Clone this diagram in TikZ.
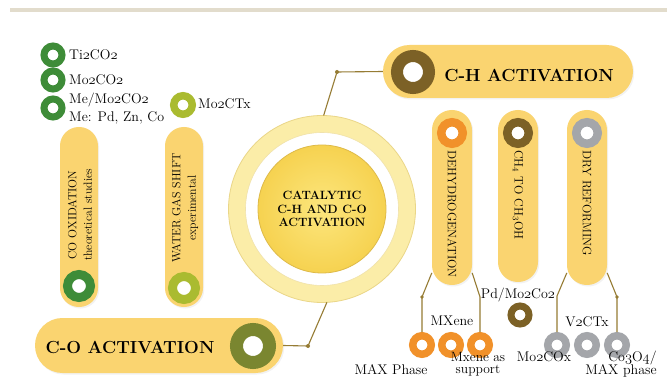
\documentclass[tikz,border=0pt]{standalone}
\usepackage{fontspec}
\usetikzlibrary{shadows}
\definecolor{baryel}{RGB}{250,212,112}
\definecolor{dgreen}{RGB}{62,140,56}
\definecolor{ygreen}{RGB}{170,187,48}
\definecolor{olivec}{RGB}{122,134,48}
\definecolor{brownc}{RGB}{124,97,38}
\definecolor{orangec}{RGB}{241,145,42}
\definecolor{greyc}{RGB}{164,166,170}
\definecolor{linec}{RGB}{150,124,52}
\definecolor{palering}{RGB}{251,237,168}
\definecolor{paleedge}{RGB}{234,214,136}
\definecolor{coreyel}{RGB}{246,210,80}
\definecolor{corein}{RGB}{252,230,125}
\definecolor{coreedge}{RGB}{222,186,72}
\definecolor{topbar}{RGB}{226,220,204}
\newcommand\ofig[1]{\legacyoldstylenums{#1}}
\begin{document}
\begin{tikzpicture}[x=1pt,y=-1pt,
  ring/.style n args={3}{circle, inner sep=0pt, fill=white, draw=#1,
     minimum size={(#2+#3)*1pt}, line width={(#2-#3)*1pt}},
  barshape/.style={rectangle, fill=baryel, inner sep=0pt,
     drop shadow={opacity=0.10,shadow xshift=1.2pt,shadow yshift=-1.5pt}},
  vbar/.style={barshape, minimum width=40pt, rounded corners=19.9pt},
  lbar/.style={barshape, minimum width=38pt, rounded corners=18.9pt},
  conn/.style={draw=linec, line width=1.1pt},
  jdot/.style={fill=linec},
  lbl/.style={inner sep=0pt, font=\fontsize{14}{18}\selectfont},
  vtxt/.style={inner sep=0pt, font=\fontsize{11.8}{15.5}\selectfont},
  rtxt/.style={inner sep=0pt, font=\fontsize{12.2}{14}\selectfont},
  head/.style={inner sep=0pt, font=\bfseries\fontsize{17.5}{20}\selectfont},
]
\useasboundingbox (0,0) rectangle (667,382);
\fill[white] (0,0) rectangle (667,382);
\fill[topbar] (10,8) rectangle (667,12);

% bars
\node[lbar, minimum height=180pt] (cobarv) at (79,217) {};
\node[lbar, minimum height=180pt] (wgsbar) at (184,217) {};
\node[barshape, minimum width=248pt, minimum height=55pt, rounded corners=27.4pt] (cobar) at (159,345.5) {};
\node[barshape, minimum width=250pt, minimum height=53pt, rounded corners=26.4pt] (chbar) at (508,71.5) {};
\node[vbar, minimum height=175pt] (dehy) at (452,197.5) {};
\node[vbar, minimum height=172pt] (chfour) at (518,196) {};
\node[vbar, minimum height=175pt] (dry) at (587,197.5) {};

% hub
\node[circle, minimum size=170pt, draw=palering, line width=17pt, fill=white] (hub) at (322,209) {};
\draw[paleedge, line width=0.8pt] (hub.center) circle[radius=93.5pt];
\draw[paleedge!70!white, line width=0.6pt] (hub.center) circle[radius=76.5pt];
\node[circle, minimum size=128pt, inner sep=0pt, inner color=corein, outer color=coreyel,
      draw=coreedge, line width=0.8pt, align=center,
      font=\bfseries\fontsize{12}{13.5}\selectfont] (core) at (hub.center)
      {CATALYTIC\\C-H AND C-O\\ACTIVATION};

% junctions
\coordinate (coj) at (308,346);
\coordinate (chj) at (337,72);
\coordinate (dj1) at (422,297);
\coordinate (dj2) at (480,297);
\coordinate (rj1) at (557,296);
\coordinate (rj2) at (617,297);

% rings
\node[ring={dgreen}{12.5}{5.5}] (rti) at (53,55) {};
\node[ring={dgreen}{12.5}{5.5}] (rmoc) at (53,80) {};
\node[ring={dgreen}{12.5}{5.5}] (rme) at (53,108) {};
\node[ring={ygreen}{13}{5.5}] (rmct) at (183,105) {};
\node[ring={dgreen}{16}{7}] (rco) at (79,286) {};
\node[ring={ygreen}{16}{7}] (rwgs) at (184,288) {};
\node[ring={olivec}{23}{10}] (rcoact) at (253,346) {};
\node[ring={brownc}{22}{10}] (rchact) at (413,72) {};
\node[ring={orangec}{15}{6.5}] (rdehy) at (452,133) {};
\node[ring={brownc}{15}{6.5}] (rchfour) at (518,133) {};
\node[ring={greyc}{15}{6.5}] (rdry) at (587,133) {};
\node[ring={orangec}{13}{5.5}] (oa) at (422,345) {};
\node[ring={orangec}{13}{5.5}] (ob) at (451,345) {};
\node[ring={orangec}{13}{5.5}] (oc) at (480,345) {};
\node[ring={brownc}{12.5}{5.5}] (rpd) at (520,315) {};
\node[ring={greyc}{13}{5.5}] (ga) at (557,345) {};
\node[ring={greyc}{13}{5.5}] (gb) at (587,345) {};
\node[ring={greyc}{13}{5.5}] (gc) at (617,345) {};

% connectors
\draw[conn] (cobar.east) -- (coj) -- (hub.-87);
\draw[conn] (chbar.west) -- (chj) -- (hub.89);
\draw[conn] (dehy.-105) -- (dj1) -- (oa.north);
\draw[conn] (dehy.-75) -- (dj2) -- (oc.north);
\draw[conn] (dry.-105) -- (rj1) -- (ga.north);
\draw[conn] (dry.-75) -- (rj2) -- (gc.north);
\fill[jdot] (coj) circle[radius=2pt];
\fill[jdot] (chj) circle[radius=2pt];
\fill[jdot] (dj1) circle[radius=1.8pt];
\fill[jdot] (rj2) circle[radius=1.8pt];

% labels top-left
\node[lbl, anchor=west] (tti) at (69,55) {Ti\ofig{2}CO\ofig{2}};
\node[lbl, anchor=west] (tmoc) at (69,80) {Mo\ofig{2}CO\ofig{2}};
\node[lbl, anchor=west, align=left] (tme) at (69,109) {Me/Mo\ofig{2}CO\ofig{2}\\Me: Pd, Zn, Co};
\node[lbl, anchor=west] (tmct) at (198,104) {Mo\ofig{2}CTx};

% vertical texts
\node[vtxt, rotate=90, align=center] (tco) at (80,215) {CO OXIDATION\\theoretical studies};
\node[vtxt, rotate=90, align=center] (twgs) at (185,208) {WATER GAS SHIFT\\experimental};
\node[rtxt, rotate=-90, anchor=west] (tdehy) at (452,150) {DEHYDROGENATION};
\node[rtxt, rotate=-90, anchor=west] (tchfour) at (518,150) {CH\textsubscript{4} TO CH\textsubscript{3}OH};
\node[rtxt, rotate=-90, anchor=west] (tdry) at (587,150) {DRY REFORMING};

% headings
\node[head] (tcoact) at (130,347) {C-O ACTIVATION};
\node[head] (tchact) at (529,75) {C-H ACTIVATION};

% bottom labels
\node[lbl] (tmx) at (452,321) {MXene};
\node[lbl] (tpd) at (518,295) {Pd/Mo\ofig{2}Co\ofig{2}};
\node[lbl] (tv) at (587,322) {V\ofig{2}CTx};
\node[lbl] (tmax) at (391,370) {MAX Phase};
\node[lbl, align=center, font=\fontsize{13.5}{12.5}\selectfont] (tsup) at (478,364) {Mxene as\\support};
\node[lbl] (tmocx) at (544,357) {Mo\ofig{2}COx};
\node[lbl, align=right, font=\fontsize{14}{13.5}\selectfont] (tcoo) at (621,364) {Co\ofig{3}O\ofig{4}/\\MAX phase};
\end{tikzpicture}
\end{document}
